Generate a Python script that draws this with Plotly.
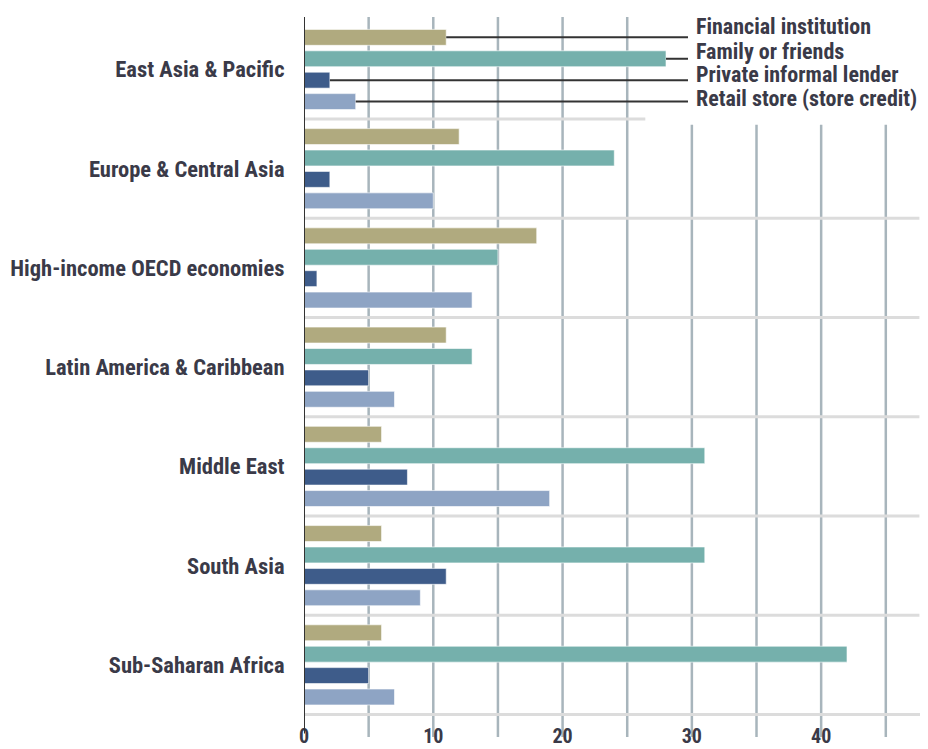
import plotly.graph_objects as go

regions = ['East Asia & Pacific', 'Europe & Central Asia', 'High-income OECD economies',
           'Latin America & Caribbean', 'Middle East', 'South Asia', 'Sub-Saharan Africa']

series_names = ['Financial institution', 'Family or friends',
                'Private informal lender', 'Retail store (store credit)']
financial = [11, 12, 18, 11, 6, 6, 6]
family = [28, 24, 15, 13, 31, 31, 42]
private_lender = [2, 2, 1, 5, 8, 11, 5]
retail = [4, 10, 13, 7, 19, 9, 7]
series_values = [financial, family, private_lender, retail]
colors = ['#b0aa7f', '#75b0ac', '#3e5c8a', '#8ea4c4']

x_ticks = [0, 10, 20, 30, 40]
grid_vals = [5, 10, 15, 20, 25, 30, 35, 40, 45]

FONT = 'Roboto Condensed, DejaVu Sans Condensed, Liberation Sans Narrow, Arial Narrow, sans-serif'
TXT = '#3a3a48'
BARGAP = 0.137
XMAX = 47.8

fig = go.Figure()
for name, vals, col in zip(series_names, series_values, colors):
    fig.add_trace(go.Bar(
        y=regions, x=vals, name=name, orientation='h',
        marker=dict(color=col, line=dict(color='rgba(255,255,255,0.6)', width=1))))

shapes = []
# group separators
for i in range(len(regions)):
    x1 = 26.4 if i == 0 else (48 if i == len(regions) - 1 else 47.6)
    shapes.append(dict(type='line', xref='x', yref='y', x0=0, x1=x1, y0=i + 0.5, y1=i + 0.5,
                       line=dict(color='#dcdcdc', width=3), layer='below'))
# vertical grid lines (shortened under the legend)
for g in grid_vals:
    top = 0.84 if g >= 30 else 0.993
    shapes.append(dict(type='line', xref='x', yref='paper', x0=g, x1=g, y0=-0.03, y1=top,
                       line=dict(color='#a8b5bc', width=2.5), layer='below'))
# axis line at zero
shapes.append(dict(type='line', xref='x', yref='paper', x0=0, x1=0, y0=-0.025, y1=0.993,
                   line=dict(color='#333333', width=2)))

# leader lines + legend text for top group
slot = (1 - BARGAP) / len(series_names)
label_y = [-0.433, -0.183, 0.050, 0.29]
annotations = []
for k, (name, vals) in enumerate(zip(series_names, series_values)):
    yc = -(1 - BARGAP) / 2 + slot * (k + 0.5)
    shapes.append(dict(type='line', xref='x', yref='y', x0=vals[0], x1=29.7, y0=yc, y1=yc,
                       line=dict(color='#333333', width=2)))
    annotations.append(dict(x=30.2, y=label_y[k], xref='x', yref='y',
                            text='<b>%s</b>' % name,
                            showarrow=False, xanchor='left', yanchor='middle',
                            font=dict(family=FONT, size=22, color=TXT)))

# the page adds an 8px body margin, so the figure is a bit smaller than the window
fig.update_layout(
    width=920, height=741,
    margin=dict(l=296, r=6, t=4, b=33),
    paper_bgcolor='white', plot_bgcolor='white',
    barmode='group', bargap=BARGAP, bargroupgap=0.256,
    showlegend=False,
    shapes=shapes, annotations=annotations,
    font=dict(family=FONT, color=TXT),
)
fig.update_xaxes(range=[0, XMAX], showgrid=False, zeroline=False, showline=False,
                 automargin=False,
                 tickvals=x_ticks, ticktext=['<b>%d</b>' % v for v in x_ticks],
                 ticks='outside', ticklen=2, tickcolor='rgba(0,0,0,0)',
                 tickfont=dict(family=FONT, size=20, color=TXT))
fig.update_yaxes(autorange='reversed', showgrid=False, zeroline=False, showline=False,
                 automargin=False,
                 tickvals=regions, ticktext=['<b>%s</b>' % r for r in regions],
                 ticks='outside', ticklen=14, tickcolor='rgba(0,0,0,0)',
                 tickfont=dict(family=FONT, size=22.5, color=TXT))

fig.write_html('out.html')
